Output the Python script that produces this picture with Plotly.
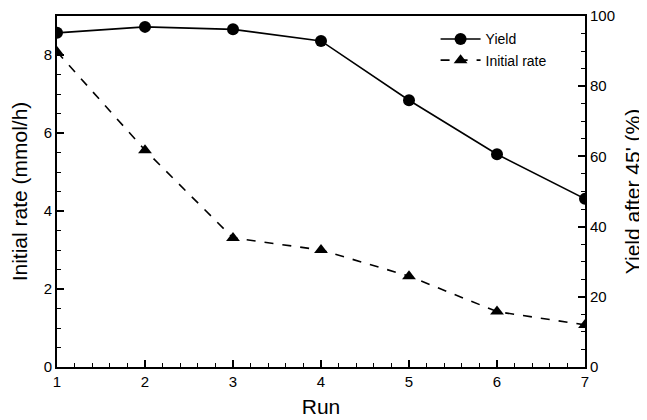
import plotly.graph_objects as go

runs = [1, 2, 3, 4, 5, 6, 7]
yield_pct = [95.2, 96.9, 96.2, 92.9, 76.0, 60.6, 47.9]
initial_rate = [8.08, 5.56, 3.31, 3.0, 2.33, 1.42, 1.08]

FONT = "Liberation Sans, Arial, Helvetica, sans-serif"
TICK = 15
TITLE = 21

fig = go.Figure()
fig.add_trace(go.Scatter(
    x=runs, y=yield_pct, name="Yield", yaxis="y2",
    mode="lines+markers",
    line=dict(color="black", width=1.6, dash="solid"),
    marker=dict(symbol="circle", size=12, color="black"),
))
fig.add_trace(go.Scatter(
    x=runs, y=initial_rate, name="Initial rate", yaxis="y",
    mode="lines+markers",
    line=dict(color="black", width=1.6, dash="dash"),
    marker=dict(symbol="triangle-up", size=12, color="black"),
))

axis_common = dict(
    showline=True, linecolor="black", linewidth=2,
    ticks="inside", ticklen=7, tickwidth=1.5, tickcolor="black",
    showgrid=False, zeroline=False, automargin=False,
    ticklabeloverflow="allow",
    tickfont=dict(family=FONT, size=TICK, color="black"),
)

# page body has an 8px default margin; size the figure to fit the window
fig.update_layout(
    width=639, height=412,
    margin=dict(l=49, r=62, t=8, b=53, autoexpand=False),
    paper_bgcolor="white", plot_bgcolor="white",
    font=dict(family=FONT, color="black"),
    showlegend=True,
    legend=dict(
        x=0.717, y=0.979, xanchor="left", yanchor="top",
        bgcolor="rgba(0,0,0,0)", font=dict(family=FONT, size=14, color="black"),
        tracegroupgap=0, itemwidth=40,
    ),
    xaxis=dict(
        **axis_common,
        range=[1, 7], dtick=1, tick0=1, mirror=True,
        minor=dict(ticks="inside", dtick=0.2, ticklen=4, tickwidth=1, tickcolor="black"),
        title=dict(text="Run", font=dict(family=FONT, size=TITLE, color="black"), standoff=10),
    ),
    yaxis=dict(
        **axis_common,
        range=[0, 9], dtick=2, tick0=0,
        minor=dict(ticks="inside", dtick=0.5, ticklen=4, tickwidth=1, tickcolor="black"),
        title=dict(text="Initial rate (mmol/h)", font=dict(family=FONT, size=TITLE, color="black"), standoff=12),
    ),
    yaxis2=dict(
        **axis_common,
        overlaying="y", side="right",
        range=[0, 100], dtick=20, tick0=0,
        minor=dict(ticks="inside", dtick=5, ticklen=4, tickwidth=1, tickcolor="black"),
        title=dict(text="Yield after 45' (%)", font=dict(family=FONT, size=TITLE, color="black"), standoff=11),
    ),
)

fig.write_html("out.html")
